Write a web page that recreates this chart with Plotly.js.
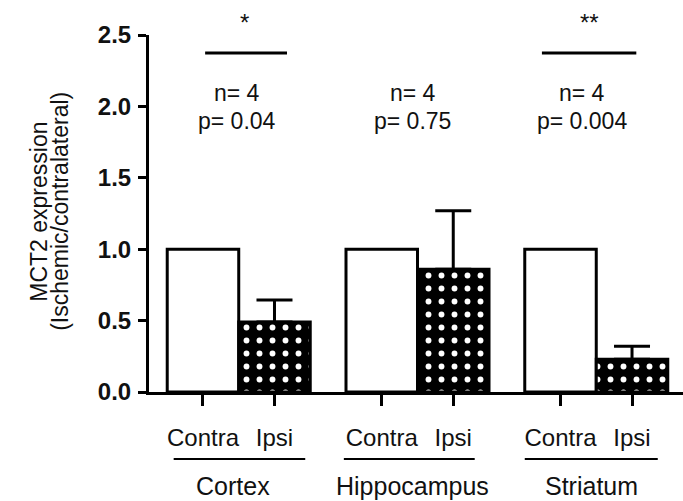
<!DOCTYPE html>
<html><head><meta charset="utf-8">
<script src="https://cdn.plot.ly/plotly-3.0.1.min.js"></script>
<style>html,body{margin:0;padding:0;background:#fff}</style>
</head><body><div id="chart" style="width:683px;height:501px"></div>
<script>
// ---- data ----
const groups = ['Cortex', 'Hippocampus', 'Striatum'];
const conditions = ['Contra', 'Ipsi'];
const contraValues = [1.0, 1.0, 1.0];
const ipsiValues = [0.49, 0.86, 0.23];
const ipsiSem = [0.155, 0.41, 0.09];
const nLabels = ['n= 4', 'n= 4', 'n= 4'];
const pLabels = ['p= 0.04', 'p= 0.75', 'p= 0.004'];
const starLabels = ['*', '', '**'];
const yTickVals = [0, 0.5, 1.0, 1.5, 2.0, 2.5];

// ---- layout helpers ----
const FONT = 'Arial, "Liberation Sans", sans-serif';
const groupCenters = [0.5, 3.0, 5.5];
const contraX = groupCenters.map(c => c - 0.5);
const ipsiX = groupCenters.map(c => c + 0.5);

const contraTrace = {
  type: 'bar', x: contraX, y: contraValues, width: 1,
  marker: {color: '#ffffff', line: {color: '#000', width: 3}},
  hoverinfo: 'skip', showlegend: false
};
const ipsiTrace = {
  type: 'bar', x: ipsiX, y: ipsiValues, width: 1,
  marker: {
    color: '#000',
    line: {color: '#000', width: 3},
    pattern: {shape: '.', fillmode: 'replace', bgcolor: '#000', fgcolor: '#fff', size: 13, solidity: 0.16}
  },
  error_y: {type: 'data', symmetric: false, array: ipsiSem, arrayminus: ipsiSem.map(() => 0),
            color: '#000', thickness: 3, width: 18},
  hoverinfo: 'skip', showlegend: false
};

const tickVals = [], tickText = [];
groupCenters.forEach((c, i) => {
  tickVals.push(contraX[i], ipsiX[i]);
  tickText.push(conditions[0], conditions[1]);
});

const shapes = [];
const annotations = [];
const underlineSpan = [[-0.41, 1.43], [1.97, 3.80], [4.50, 6.36]];
const txtShift = [-0.02, -0.07, -0.2];
groups.forEach((g, i) => {
  shapes.push({type: 'line', xref: 'x', yref: 'paper', x0: underlineSpan[i][0], x1: underlineSpan[i][1],
               y0: -0.188, y1: -0.188, line: {color: '#000', width: 2}});
  annotations.push({xref: 'x', yref: 'paper', x: groupCenters[i] + (i === 0 ? -0.08 : -0.07), y: -0.262, text: g,
                    showarrow: false, xanchor: 'center', yanchor: 'middle', font: {family: FONT, size: 25, color: '#111'}});
  annotations.push({xref: 'x', yref: 'y', x: groupCenters[i] + txtShift[i], y: 2.094,
                    text: nLabels[i], showarrow: false, xanchor: 'center', yanchor: 'middle',
                    font: {family: FONT, size: 23, color: '#111'}});
  annotations.push({xref: 'x', yref: 'y', x: groupCenters[i] + txtShift[i], y: 1.9,
                    text: pLabels[i], showarrow: false, xanchor: 'center', yanchor: 'middle',
                    font: {family: FONT, size: 23, color: '#111'}});
  if (starLabels[i]) {
    annotations.push({xref: 'x', yref: 'paper', x: groupCenters[i] + (i === 0 ? 0.08 : -0.1), y: 1.035,
                      text: starLabels[i], showarrow: false, xanchor: 'center', yanchor: 'middle',
                      font: {family: FONT, size: 24, color: '#111'}});
    shapes.push({type: 'line', xref: 'x', yref: 'y',
                 x0: groupCenters[i] - (i === 0 ? 0.47 : 0.76), x1: groupCenters[i] + (i === 0 ? 0.675 : 0.56),
                 y0: 2.374, y1: 2.374, line: {color: '#000', width: 3}});
  }
});
annotations.push({xref: 'paper', yref: 'paper', x: -0.2060, y: 0.505, text: 'MCT2 expression', textangle: -90,
                  showarrow: false, xanchor: 'center', yanchor: 'middle', font: {family: FONT, size: 23, color: '#111'}});
annotations.push({xref: 'paper', yref: 'paper', x: -0.1665, y: 0.505, text: '(Ischemic/contralateral)', textangle: -90,
                  showarrow: false, xanchor: 'center', yanchor: 'middle', font: {family: FONT, size: 23, color: '#111'}});

const layout = {
  width: 683, height: 501,
  margin: {l: 149, r: 0, t: 35, b: 109, pad: 0},
  paper_bgcolor: '#fff', plot_bgcolor: '#fff',
  bargap: 0,
  xaxis: {
    type: 'linear', range: [-0.755, 6.713], showgrid: false, zeroline: false,
    showline: true, linecolor: '#000', linewidth: 3,
    tickvals: tickVals, ticktext: tickText, ticks: 'outside', ticklen: 11, tickwidth: 3, tickcolor: '#000',
    tickfont: {family: FONT, size: 24, color: '#111'}, ticklabelstandoff: 11, fixedrange: true
  },
  yaxis: {
    range: [0, 2.5], showgrid: false, zeroline: false,
    showline: true, linecolor: '#000', linewidth: 3,
    tickvals: yTickVals, tickformat: '.1f', ticks: 'outside', ticklen: 8, tickwidth: 3, tickcolor: '#000',
    tickfont: {family: FONT, size: 24, color: '#111', weight: 'bold'}, ticklabelstandoff: 2, fixedrange: true
  },
  shapes: shapes,
  annotations: annotations
};

Plotly.newPlot('chart', [contraTrace, ipsiTrace], layout, {displayModeBar: false, staticPlot: true});
</script></body></html>
